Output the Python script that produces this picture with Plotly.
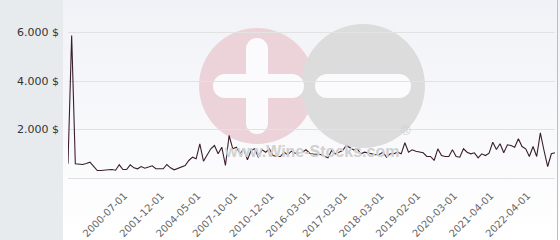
import plotly.graph_objects as go

# ---- data -------------------------------------------------------------
prices = [
    585, 5880, 585, 570, 557, 600, 652, 480, 309, 309,
    309, 340, 350, 320, 544, 350, 350, 544, 420, 380,
    474, 404, 450, 503, 380, 380, 380, 557, 420, 338,
    400, 445, 515, 722, 858, 792, 1410, 693, 928, 1204,
    1340, 998, 1270, 515, 1753, 1204, 1270, 998, 1204, 750,
    1134, 1204, 858, 1163, 1064, 1204, 928, 887, 887, 1064,
    957, 1105, 1023, 1040, 1064, 1163, 1023, 990, 969, 969,
    900, 833, 1134, 998, 1060, 1134, 1340, 1250, 1163, 1200,
    998, 1064, 1023, 990, 957, 969, 1064, 858, 998, 998,
    1064, 998, 1452, 1064, 1163, 1105, 1070, 1040, 887, 887,
    722, 1204, 928, 887, 887, 1163, 887, 858, 1204, 1064,
    998, 1039, 833, 998, 928, 1023, 1476, 1175, 1410, 1039,
    1369, 1340, 1270, 1617, 1299, 1204, 887, 1299, 887, 1864,
    1134, 474, 998, 1039,
]
tick_positions = [16, 26, 36, 46, 56, 66, 76, 86, 96, 106, 116, 126]
tick_labels = [
    "2000-07-01", "2001-12-01", "2004-05-01", "2007-10-01",
    "2010-12-01", "2016-03-01", "2017-03-01", "2018-03-01",
    "2019-02-01", "2020-03-01", "2021-04-01", "2022-04-01",
]
y_ticks = [2000, 4000, 6000]
y_tick_labels = ["2.000 $", "4.000 $", "6.000 $"]

# ---- layout geometry --------------------------------------------------
W, H = 560, 240
ML, MR, MT, MB = 68, 5, 12, 62
PW, PH = W - ML - MR, H - MT - MB


def xp(px):
    return (px - ML) / PW


def yp(py):
    return (H - MB - py) / PH


x_idx = list(range(len(prices)))

fig = go.Figure()
fig.add_trace(go.Scatter(
    x=x_idx, y=prices, mode="lines",
    line=dict(color="#3a1e2b", width=1.1),
    hoverinfo="skip", showlegend=False,
))

grad_svg = (
    "data:image/svg+xml;utf8,"
    "<svg xmlns='http://www.w3.org/2000/svg' width='100' height='100' preserveAspectRatio='none'>"
    "<defs><linearGradient id='g' x1='0' y1='0' x2='0' y2='1'>"
    "<stop offset='0' stop-color='%23f1f2f7'/><stop offset='1' stop-color='%23ffffff'/>"
    "</linearGradient></defs><rect width='100' height='100' fill='url(%23g)'/></svg>"
)

WM_PINK = "#ecd3da"
WM_GRAY = "#dcdcdc"
WM_BAR = "#fbfbfd"


def circ(cx, cy, r, color):
    return dict(type="circle", xref="paper", yref="paper",
                x0=xp(cx - r), x1=xp(cx + r), y0=yp(cy + r), y1=yp(cy - r),
                fillcolor=color, line=dict(width=0), layer="below")


def rect(x0, x1, y0, y1, color):
    return dict(type="rect", xref="paper", yref="paper",
                x0=xp(x0), x1=xp(x1), y0=yp(y1), y1=yp(y0),
                fillcolor=color, line=dict(width=0), layer="below")


def hbar(x0, x1, cy, t, color):
    r = t / 2
    return [rect(x0 + r, x1 - r, cy - r, cy + r, color),
            circ(x0 + r, cy, r, color), circ(x1 - r, cy, r, color)]


def vbar(cx, y0, y1, t, color):
    r = t / 2
    return [rect(cx - r, cx + r, y0 + r, y1 - r, color),
            circ(cx, y0 + r, r, color), circ(cx, y1 - r, r, color)]


shapes = []
shapes.append(circ(257, 86, 58, WM_PINK))
shapes.append(circ(363, 86, 62, WM_GRAY))
shapes += vbar(257, 38, 134, 22, WM_BAR)
shapes += hbar(213, 304, 86, 24, WM_BAR)
shapes += hbar(315, 411, 86, 24, WM_BAR)
# right border
shapes.append(dict(type="line", xref="paper", yref="paper",
                   x0=xp(557.5), x1=xp(557.5), y0=yp(240), y1=yp(0),
                   line=dict(color="#bdbdbd", width=1), layer="above"))

fig.update_layout(
    width=W, height=H,
    margin=dict(l=ML, r=MR, t=MT, b=MB, pad=0, autoexpand=False),
    paper_bgcolor="#e7ebee",
    plot_bgcolor="rgba(0,0,0,0)",
    font=dict(family="DejaVu Sans", size=11, color="#333333"),
    images=[dict(source=grad_svg, xref="paper", yref="paper",
                 x=xp(63), y=yp(0), sizex=(W - 63) / PW, sizey=H / PH,
                 xanchor="left", yanchor="top", sizing="stretch", layer="below")],
    shapes=shapes,
    annotations=[
        dict(text="<b>www.Wine-Stocks.com</b>", xref="paper", yref="paper",
             x=xp(311), y=yp(162), showarrow=False,
             font=dict(family="Liberation Sans", size=16, color="#d0d0d0")),
        dict(text="®", xref="paper", yref="paper",
             x=xp(413), y=yp(140), showarrow=False,
             font=dict(family="Liberation Sans", size=13, color="#d0d0d0")),
    ],
    xaxis=dict(
        range=[0, len(prices) - 1], tickmode="array",
        tickvals=tick_positions, ticktext=tick_labels,
        tickangle=-45, tickfont=dict(family="DejaVu Sans", size=10, color="#666666"),
        showgrid=False, zeroline=False, showline=True, linecolor="#e0e0e0",
        linewidth=1, ticks="", fixedrange=True, automargin=False,
        ticklabelstandoff=7, ticklabelshift=-2,
    ),
    yaxis=dict(
        range=[0, PH * 2000 / 48.5], tickmode="array",
        tickvals=y_ticks, ticktext=y_tick_labels,
        tickfont=dict(family="DejaVu Sans", size=11, color="#333333"),
        showgrid=True, gridcolor="#e2e2e2", gridwidth=1, automargin=False,
        zeroline=False, showline=False, ticks="", ticklabelstandoff=8,
    ),
)

fig.write_html("out.html")
